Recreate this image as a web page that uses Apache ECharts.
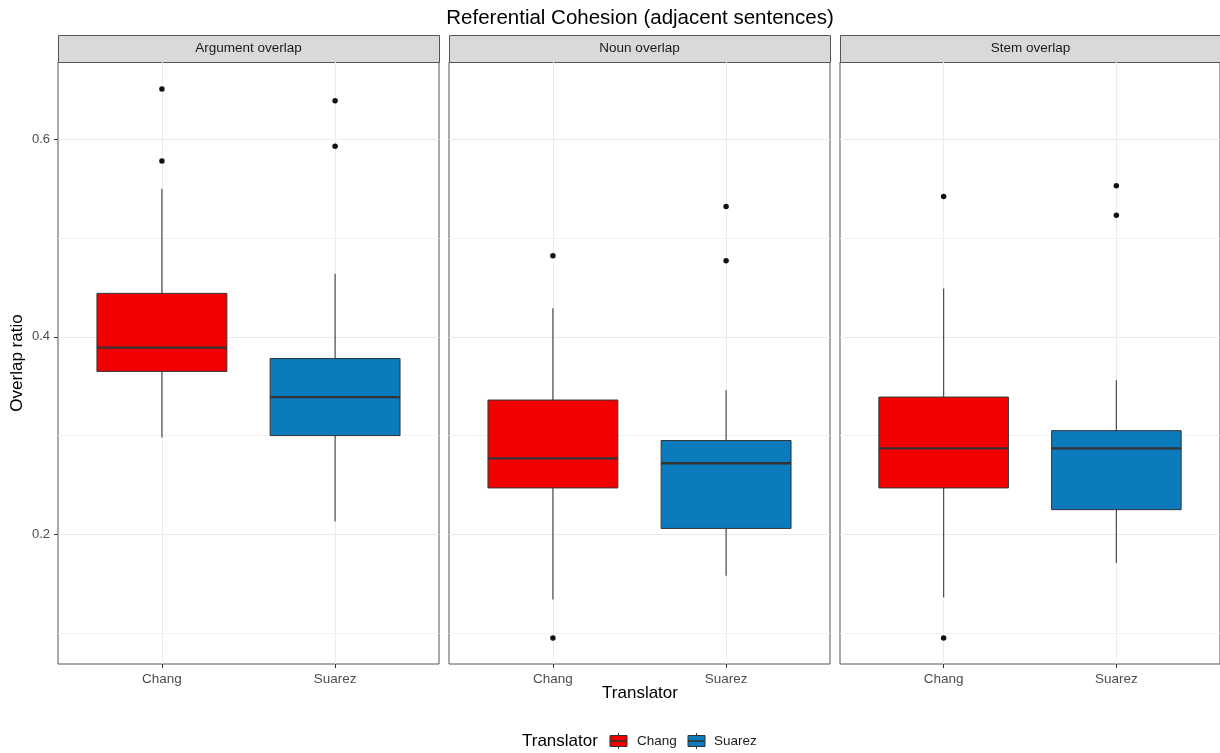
<!DOCTYPE html>
<html>
<head>
<meta charset="utf-8">
<script src="https://cdn.jsdelivr.net/npm/echarts@6/dist/echarts.min.js"></script>
<style>
  html, body { margin: 0; padding: 0; background: #ffffff; }
  #chart { width: 1220px; height: 753px; }
</style>
</head>
<body>
<div id="chart"></div>
<script>
// ---- data ----
const chartTitle = 'Referential Cohesion (adjacent sentences)';
const panels = ['Argument overlap', 'Noun overlap', 'Stem overlap'];
const translators = ['Chang', 'Suarez'];
const yTicks = [0.2, 0.4, 0.6];
// per panel: [lower whisker, Q1, median, Q3, upper whisker]
const changBox = [
  [0.298, 0.365, 0.389, 0.444, 0.550],
  [0.134, 0.247, 0.277, 0.336, 0.429],
  [0.136, 0.247, 0.287, 0.339, 0.449]
];
const suarezBox = [
  [0.213, 0.300, 0.339, 0.378, 0.464],
  [0.158, 0.206, 0.272, 0.295, 0.346],
  [0.171, 0.225, 0.287, 0.305, 0.356]
];
const changOutliers = [
  [0.651, 0.578],
  [0.482, 0.095],
  [0.542, 0.095]
];
const suarezOutliers = [
  [0.639, 0.593],
  [0.532, 0.477],
  [0.553, 0.523]
];

// ---- styling / layout ----
const FONT = '"Liberation Sans", Arial, Helvetica, sans-serif';
const fillColors = ['#F20000', '#0C7BBE'];
const Y_MIN = 0.0687, Y_MAX = 0.6783;
const X_MIN = 0.4, X_MAX = 2.6;
const BOX_W = 0.75;
const panelLeft = [58, 449, 840];
const PANEL_W = 381, PANEL_TOP = 62, PANEL_H = 602, STRIP_H = 27;

const boxes = [changBox, suarezBox];
const outliers = [changOutliers, suarezOutliers];

function renderBox(params, api) {
  const x = api.value(0);
  const c = v => api.coord([x, v]);
  const pLo = c(api.value(1)), pQ1 = c(api.value(2)), pMed = c(api.value(3));
  const pQ3 = c(api.value(4)), pHi = c(api.value(5));
  const fill = fillColors[api.value(6)];
  const half = api.size([BOX_W, 0])[0] / 2;
  const cx = pMed[0];
  const whisk = { stroke: '#4a4a4a', lineWidth: 1.2 };
  return {
    type: 'group',
    children: [
      { type: 'line', shape: { x1: cx, y1: pHi[1], x2: cx, y2: pQ3[1] }, style: whisk },
      { type: 'line', shape: { x1: cx, y1: pQ1[1], x2: cx, y2: pLo[1] }, style: whisk },
      { type: 'rect', shape: { x: cx - half, y: pQ3[1], width: 2 * half, height: pQ1[1] - pQ3[1] },
        style: { fill: fill, stroke: '#333333', lineWidth: 1 } },
      { type: 'line', shape: { x1: cx - half, y1: pMed[1], x2: cx + half, y2: pMed[1] },
        style: { stroke: '#333333', lineWidth: 2.3 } }
    ]
  };
}

const grids = [], xAxes = [], yAxes = [], series = [], graphics = [];

panels.forEach((name, p) => {
  grids.push({
    left: panelLeft[p], top: PANEL_TOP, width: PANEL_W, height: PANEL_H,
    show: true, borderColor: '#555555', borderWidth: 1, backgroundColor: 'transparent'
  });
  xAxes.push({
    gridIndex: p, type: 'value', min: X_MIN, max: X_MAX, splitNumber: 2,
    axisLine: { show: false },
    axisTick: { show: true, length: 4, customValues: [1, 2], lineStyle: { color: '#333333', width: 1 } },
    axisLabel: {
      customValues: [1, 2], margin: 8, color: '#4d4d4d', fontSize: 13.5, fontFamily: FONT,
      formatter: v => translators[Math.round(v) - 1] || ''
    },
    splitLine: { show: true, lineStyle: { color: '#ebebeb', width: 1 } }
  });
  yAxes.push({
    gridIndex: p, type: 'value', min: Y_MIN, max: Y_MAX, splitNumber: 3,
    axisLine: { show: false },
    axisTick: { show: p === 0, length: 4, customValues: yTicks, lineStyle: { color: '#333333', width: 1 } },
    axisLabel: {
      show: p === 0, customValues: yTicks, margin: 8, color: '#4d4d4d', fontSize: 13, fontFamily: FONT,
      formatter: v => v.toFixed(1)
    },
    splitLine: { show: true, lineStyle: { color: '#ebebeb', width: 1 } },
    minorTick: { show: false, splitNumber: 2 },
    minorSplitLine: { show: true, lineStyle: { color: '#f2f2f2', width: 1 } }
  });

  series.push({
    type: 'custom', name: 'box-' + p, xAxisIndex: p, yAxisIndex: p,
    renderItem: renderBox,
    encode: { x: 0, y: [1, 2, 3, 4, 5] },
    data: translators.map((t, k) => [k + 1].concat(boxes[k][p]).concat([k])),
    z: 3
  });
  const pts = [];
  translators.forEach((t, k) => outliers[k][p].forEach(v => pts.push([k + 1, v])));
  series.push({
    type: 'scatter', name: 'outliers-' + p, xAxisIndex: p, yAxisIndex: p,
    symbol: 'circle', symbolSize: 5.5,
    itemStyle: { color: '#111111', opacity: 1 },
    data: pts, z: 4
  });

  // facet strip
  graphics.push({
    type: 'rect', left: panelLeft[p], top: PANEL_TOP - STRIP_H,
    shape: { width: PANEL_W, height: STRIP_H },
    style: { fill: '#d9d9d9', stroke: '#555555', lineWidth: 1 }
  });
  graphics.push({
    type: 'text', x: panelLeft[p] + PANEL_W / 2, y: PANEL_TOP - STRIP_H / 2,
    style: { text: name, fill: '#1a1a1a', font: '13.5px ' + FONT, align: 'center', verticalAlign: 'middle' }
  });
});

// chart title, centred over the panels
graphics.push({
  type: 'text', x: 640, y: 18,
  style: { text: chartTitle, fill: '#000000', font: '20.5px ' + FONT, align: 'center', verticalAlign: 'middle' }
});

// axis titles
graphics.push({
  type: 'text', x: 640, y: 693,
  style: { text: 'Translator', fill: '#000000', font: '17px ' + FONT, align: 'center', verticalAlign: 'middle' }
});
graphics.push({
  type: 'text', x: 17, y: 363, rotation: Math.PI / 2,
  style: { text: 'Overlap ratio', fill: '#000000', font: '17px ' + FONT, align: 'center', verticalAlign: 'middle' }
});

// legend
const legendY = 741;
graphics.push({
  type: 'text', x: 522, y: legendY,
  style: { text: 'Translator', fill: '#000000', font: '17px ' + FONT, align: 'left', verticalAlign: 'middle' }
});
const keyX = [610, 688], labelX = [637, 714];
translators.forEach((t, k) => {
  const cx = keyX[k] + 8.5;
  graphics.push({
    type: 'group',
    children: [
      { type: 'line', shape: { x1: cx, y1: legendY - 8, x2: cx, y2: legendY + 8 }, style: { stroke: '#333333', lineWidth: 1 } },
      { type: 'rect', shape: { x: keyX[k], y: legendY - 5.5, width: 17, height: 11 },
        style: { fill: fillColors[k], stroke: '#333333', lineWidth: 1 } },
      { type: 'line', shape: { x1: keyX[k], y1: legendY, x2: keyX[k] + 17, y2: legendY }, style: { stroke: '#333333', lineWidth: 1.6 } }
    ]
  });
  graphics.push({
    type: 'text', x: labelX[k], y: legendY,
    style: { text: t, fill: '#1a1a1a', font: '13.5px ' + FONT, align: 'left', verticalAlign: 'middle' }
  });
});

const chart = echarts.init(document.getElementById('chart'), null, { renderer: 'canvas' });
chart.setOption({
  animation: false,
  backgroundColor: '#ffffff',
  grid: grids,
  xAxis: xAxes,
  yAxis: yAxes,
  series: series,
  graphic: graphics
});
</script>
</body>
</html>
